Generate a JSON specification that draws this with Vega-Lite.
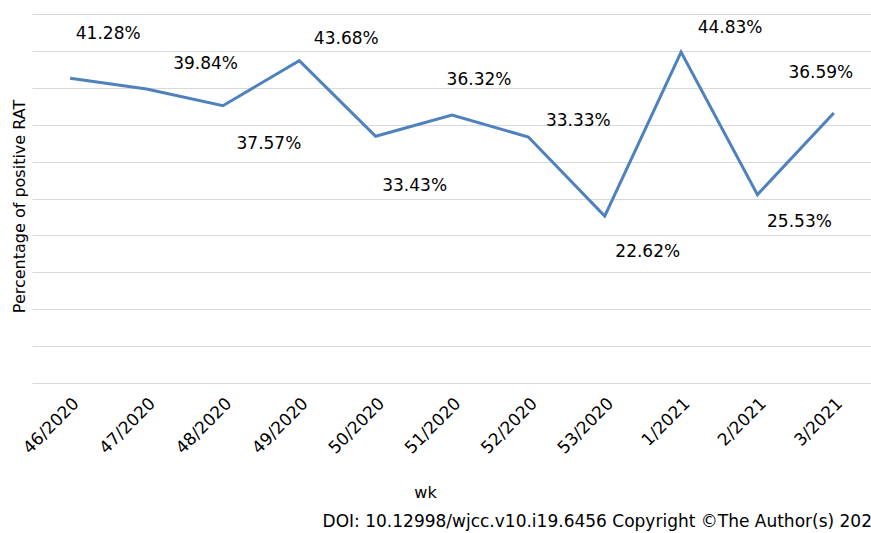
{
  "$schema": "https://vega.github.io/schema/vega-lite/v6.json",
  "width": 840,
  "height": 369,
  "autosize": "none",
  "padding": {"left": 32, "top": 14, "right": 0, "bottom": 150},
  "background": "white",
  "config": {
    "view": {"stroke": null},
    "font": "DejaVu Sans",
    "text": {"font": "DejaVu Sans", "fontSize": 17, "color": "#000000", "align": "center", "baseline": "middle"}
  },
  "title": {
    "text": "DOI: 10.12998/wjcc.v10.i19.6456  Copyright ©The Author(s) 202",
    "orient": "bottom",
    "anchor": "end",
    "font": "DejaVu Sans",
    "fontSize": 17,
    "fontWeight": "normal",
    "color": "#000000",
    "offset": 14
  },
  "data": {
    "values": [
      {"wk": "46/2020", "pct": 0.4128},
      {"wk": "47/2020", "pct": 0.3984},
      {"wk": "48/2020", "pct": 0.3757},
      {"wk": "49/2020", "pct": 0.4368},
      {"wk": "50/2020", "pct": 0.3343},
      {"wk": "51/2020", "pct": 0.3632},
      {"wk": "52/2020", "pct": 0.3333},
      {"wk": "53/2020", "pct": 0.2262},
      {"wk": "1/2021", "pct": 0.4483},
      {"wk": "2/2021", "pct": 0.2553},
      {"wk": "3/2021", "pct": 0.3659}
    ]
  },
  "encoding": {
    "x": {
      "field": "wk",
      "type": "ordinal",
      "sort": null,
      "scale": {"type": "point", "padding": 0.5},
      "axis": {
        "title": "wk",
        "labelAngle": -45,
        "labelFont": "DejaVu Sans",
        "labelFontSize": 17,
        "labelColor": "#000000",
        "labelPadding": 12,
        "titleFont": "DejaVu Sans",
        "titleFontSize": 16,
        "titleFontWeight": "normal",
        "titleColor": "#000000",
        "titlePadding": 28,
        "titleX": 393,
        "domain": false,
        "ticks": false,
        "grid": false
      }
    },
    "y": {
      "field": "pct",
      "type": "quantitative",
      "scale": {"domain": [0, 0.5]},
      "axis": {
        "title": "Percentage of positive RAT",
        "tickCount": 10,
        "labels": false,
        "ticks": false,
        "domain": false,
        "grid": true,
        "gridColor": "#d9d9d9",
        "gridWidth": 1,
        "titleFont": "DejaVu Sans",
        "titleFontSize": 16,
        "titleFontWeight": "normal",
        "titleColor": "#000000",
        "titlePadding": 5,
        "titleY": 192
      }
    }
  },
  "layer": [
    {"mark": {"type": "line", "color": "#4f81bd", "strokeWidth": 3}},
    {"transform": [{"filter": "datum.wk == '46/2020'"}], "mark": {"type": "text", "dx": 38, "dy": -44}, "encoding": {"text": {"field": "pct", "format": ".2%"}}},
    {"transform": [{"filter": "datum.wk == '47/2020'"}], "mark": {"type": "text", "dx": 59, "dy": -25}, "encoding": {"text": {"field": "pct", "format": ".2%"}}},
    {"transform": [{"filter": "datum.wk == '48/2020'"}], "mark": {"type": "text", "dx": 46, "dy": 38}, "encoding": {"text": {"field": "pct", "format": ".2%"}}},
    {"transform": [{"filter": "datum.wk == '49/2020'"}], "mark": {"type": "text", "dx": 47, "dy": -22}, "encoding": {"text": {"field": "pct", "format": ".2%"}}},
    {"transform": [{"filter": "datum.wk == '50/2020'"}], "mark": {"type": "text", "dx": 39, "dy": 50}, "encoding": {"text": {"field": "pct", "format": ".2%"}}},
    {"transform": [{"filter": "datum.wk == '51/2020'"}], "mark": {"type": "text", "dx": 27, "dy": -35}, "encoding": {"text": {"field": "pct", "format": ".2%"}}},
    {"transform": [{"filter": "datum.wk == '52/2020'"}], "mark": {"type": "text", "dx": 50, "dy": -16}, "encoding": {"text": {"field": "pct", "format": ".2%"}}},
    {"transform": [{"filter": "datum.wk == '53/2020'"}], "mark": {"type": "text", "dx": 43, "dy": 36}, "encoding": {"text": {"field": "pct", "format": ".2%"}}},
    {"transform": [{"filter": "datum.wk == '1/2021'"}], "mark": {"type": "text", "dx": 49, "dy": -24}, "encoding": {"text": {"field": "pct", "format": ".2%"}}},
    {"transform": [{"filter": "datum.wk == '2/2021'"}], "mark": {"type": "text", "dx": 42, "dy": 27}, "encoding": {"text": {"field": "pct", "format": ".2%"}}},
    {"transform": [{"filter": "datum.wk == '3/2021'"}], "mark": {"type": "text", "dx": -13, "dy": -40}, "encoding": {"text": {"field": "pct", "format": ".2%"}}}
  ]
}
